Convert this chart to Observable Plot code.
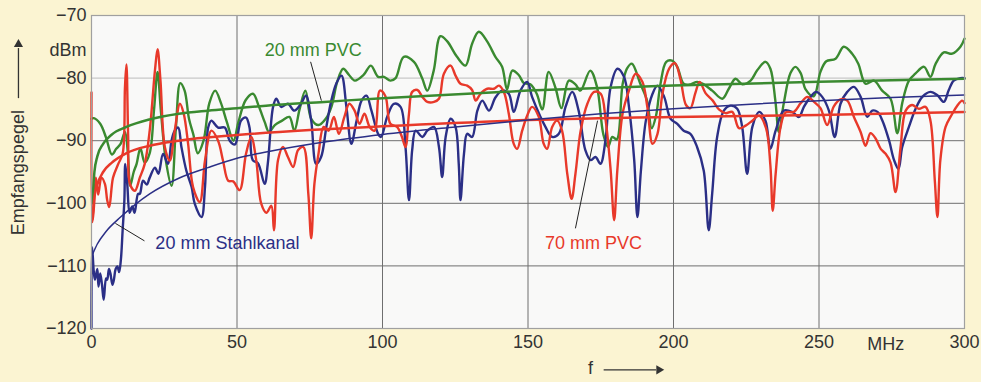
<!DOCTYPE html>
<html><head><meta charset="utf-8">
<script src="https://cdn.jsdelivr.net/npm/d3@7"></script>
<script src="https://cdn.jsdelivr.net/npm/@observablehq/plot@0.6"></script>
<style>html,body{margin:0;padding:0;background:#fbf4d2;}</style>
</head><body><div id="chart"></div>
<script>
const xTicks = [0, 50, 100, 150, 200, 250, 300];
const yTicks = [-70, -80, -90, -100, -110, -120];

const greenF = [0,0.8,3,5,7,8.5,10,11.5,12.5,13.3,14.5,15.5,16.8,18.3,20,21.5,22.7,23.8,25.5,27.5,29,30.5,32,33.5,35,36.5,38.5,40.5,42.5,44.5,46.5,48.8,50.5,53,55.5,57.5,59.5,61,63,65.5,68,69.7,71.5,73.5,75.5,78,80.5,82.5,84.5,86.5,88.5,90.5,93.5,96,98.5,100.5,102.7,104.5,107.3,110.8,113.6,115.4,117.6,119.9,122.2,125.6,128.5,130.8,133.1,135.9,138.8,141.1,142.8,144.6,146.8,148.6,150.8,153,154.9,157.1,159.4,161.5,164,166.3,168,171.4,173.7,175.9,177.5,179,180.5,182.5,184,185.7,188.6,190.9,192.5,194,195.5,197.5,199.5,201.3,203.5,205.8,208.1,210.4,213.3,216.8,219,221.3,223.6,226.5,228.7,231.6,233.3,235,236.2,237.9,240.2,241.9,243.7,245.4,248.2,250.5,252.5,255.7,258.5,261.4,263.5,266,268.9,271.7,274.6,276.9,278.6,280.9,283.1,286.1,288.3,290.1,292.9,295.8,298.6,300];
const greenV = [-86.5,-86.4,-87.3,-89.5,-92.2,-91.3,-90.5,-88.6,-92,-97.2,-95,-93.7,-91.2,-93.5,-92,-85,-79,-85,-93,-97.2,-88,-80.8,-82,-86.5,-89,-92,-90,-84,-82,-84,-87,-90,-87,-83.5,-82.5,-84.5,-87,-88.6,-87.5,-86.8,-86.2,-88.4,-85,-82,-86.5,-87.5,-86.5,-84.5,-80.5,-78.5,-79.5,-80.4,-79.5,-78,-79.8,-79.8,-80.4,-80,-76.6,-77.4,-80,-82,-78.8,-73.3,-74.1,-76.6,-78,-74.5,-72.6,-74.1,-76.6,-78.2,-81.8,-78.8,-79.5,-80.8,-81,-82.5,-85,-79,-81.5,-84.8,-80.4,-81,-82,-78.8,-81.4,-89,-91,-89.4,-89.8,-81,-78.5,-77.7,-80.9,-83.6,-88,-86,-81,-77.4,-77.2,-78.2,-80.9,-81,-80.6,-81,-82,-83.3,-81.7,-80.1,-81,-80.4,-78.8,-77.4,-78.5,-83.6,-88.6,-84,-79.2,-78.2,-79.2,-81.8,-82.9,-79,-77.3,-76.9,-75,-76.1,-77.7,-80.9,-80.4,-82,-83.3,-88.8,-84,-80.4,-79.3,-78.2,-79.8,-77.7,-75.9,-76.1,-75,-73.7];

const redF = [0,0.3,0.8,1.5,2.3,3.4,4.6,5.4,6.1,7.4,9.2,10.7,11.5,12,12.6,13.2,14.9,16.6,18.3,20,21.8,22.7,23.7,25.2,26.9,28.6,30.4,31.7,33.2,34.9,37.2,39,41.2,43.5,45.2,47,48.7,50.9,53.1,54.9,56.6,58.3,60.1,61.8,62.7,64.1,65.8,67.5,69.3,71,72.8,74.5,75.5,76.6,78,79.8,81.5,83.3,85,86.9,88.6,90.4,92.1,93.8,95.6,97.3,99.1,101,102.7,105,106.7,107.9,109.1,110.2,112,113.7,115.4,117.7,119.4,121.1,123.4,125.1,126.8,129.1,130.8,132,133.7,136,138.3,140,141.7,143.4,145.1,146.3,148,149.7,151.4,153.7,155.4,156.6,158.3,160,161.7,163.5,165,166.3,168.1,170.4,172.7,175,176.7,178.4,179.6,180.7,182.5,184.7,187,189.3,191,192.8,194.5,196.2,198.5,200.5,202.4,204.3,205.8,207.5,209,211,213.5,215.6,217.9,220.2,222.5,224.8,227.1,229.4,231.8,233.3,234.1,235.1,236.8,238.5,241.4,243.7,246,248.3,250.5,252.8,255.1,257.4,259.7,262,264.3,266,267.7,269.4,271.2,272.9,274.6,276.3,278,279.8,282,284.3,286.6,288.3,289.8,290.7,291.7,293.5,295.8,297.5,299.2,300];
const redV = [-82.3,-103,-100.8,-95.9,-98.6,-95.9,-96.9,-99.5,-100.6,-95.9,-93.7,-92.1,-81.5,-77.8,-89.4,-96.9,-98,-95.9,-93.7,-88.4,-78.8,-75.4,-80.4,-91,-93.2,-88.4,-84.1,-85.7,-90.5,-97.4,-99.8,-93.2,-88.4,-90,-93.2,-96.4,-96.5,-97.9,-92.1,-89.4,-93.1,-100,-101.5,-100.4,-104.3,-93.1,-91,-92.6,-94.2,-91.5,-91,-98.4,-105.6,-96.9,-92.1,-87.8,-88.4,-86.2,-88.9,-86.2,-84.1,-85.2,-87.3,-85.7,-87.8,-88.4,-82,-82.9,-87.3,-87.8,-89.4,-91,-85.7,-82.2,-81.9,-83,-83.8,-83.8,-83.3,-79.3,-78,-79.6,-80.9,-81.2,-81.9,-83.6,-82.5,-81.7,-81.7,-81.2,-82.2,-85.7,-90.5,-91.3,-88.4,-86,-84.6,-86.2,-90.5,-91.3,-87.8,-86.8,-88.4,-95.3,-99.3,-95.3,-88.4,-84.1,-82.2,-82.5,-86.8,-94.7,-102.7,-94.7,-85.7,-82,-79.3,-80.6,-84.6,-90.5,-88.9,-82.5,-78.5,-77.6,-80.2,-84.3,-84.8,-82.4,-80.6,-82.4,-83.6,-85,-85.6,-85.4,-88,-87.6,-86.8,-86,-88,-94,-101.2,-95.3,-87.8,-85.5,-85.4,-84,-83,-83.8,-84.8,-87.5,-84.5,-83.4,-83.6,-86.2,-88.6,-90.8,-88.8,-89.6,-91.3,-92.1,-93.5,-98.2,-91.2,-85.2,-84.3,-84.9,-84.6,-86.8,-96.4,-102.2,-93.1,-87.8,-85.7,-84.4,-83.6,-84];

const blueF = [0,0.2,0.8,1.2,2,2.4,3,3.6,4.2,5,5.4,6,6.5,7.2,7.7,8.3,8.9,9.5,10.1,10.7,11.3,11.6,12.3,13.1,14,14.8,16,16.6,17.7,19,20,21.8,23,24.6,26.3,27.5,28.6,29.8,30.9,32.6,34.4,35.5,37.8,39,40.1,41.2,43.5,45.8,47.5,49.3,51.4,53.1,54.3,55.4,57.2,59.5,60.6,62.4,63.5,65.2,67.5,69.7,72,73.7,75.5,77.2,78.9,80.7,82.4,84.1,85.9,87.6,89.3,91.1,92.8,94.5,96.2,98.5,99.5,101.6,103.9,106.2,107.9,109.1,110.2,111.4,113.7,115.4,117.7,119.4,120.5,121.7,123.4,125.1,126.2,126.8,128,129.1,130.8,132.6,134.3,136.6,138.8,141.1,143.4,145.1,147.4,149.7,151.4,154.3,156,158.3,160.6,162.9,165.2,167.4,169.7,171.5,173.2,174.9,176.6,178.4,180.7,183,184.7,186.5,187.6,188.8,190.5,192.8,194.5,196.8,199,201.3,203.5,205.8,208.1,210.4,212.1,213.3,215,217.3,219.6,221.9,223.6,225.3,227.1,229.4,231.6,233.3,235.1,237.9,240.8,243.1,244.8,247.1,249,251.1,253.4,255.4,257.4,259.7,262,264.3,266.6,268.3,270.1,271.8,274.1,275.8,277.3,278.6,280.9,283.2,285.5,288.3,290.6,292.9,294.6,296.3,298.6,300];
const blueV = [-120,-107,-111,-112.2,-110.5,-113.3,-111.2,-113,-115.4,-112,-112.2,-110.5,-111.2,-113,-112.2,-110.5,-110.1,-111,-109,-104.3,-99.5,-93.7,-97,-101.5,-100.5,-101.5,-98.5,-98.5,-96.4,-97,-95.9,-94.3,-95.3,-92.1,-93.7,-90,-88.4,-87.9,-91,-94.8,-97.4,-100.1,-102.2,-97.4,-87.9,-86.8,-87.9,-87.9,-90,-90.6,-86.8,-86.3,-87.9,-93.1,-93.6,-96.9,-93.6,-84.6,-83.3,-84.6,-84.1,-85.2,-84.1,-82.8,-86.8,-93.7,-92.6,-87.8,-83.6,-80.9,-79.6,-84.6,-90.5,-86.8,-83.6,-82.8,-85.2,-88.9,-89.4,-86.2,-84.1,-84.6,-91,-99.5,-91.5,-88.4,-89.4,-88.4,-87.8,-91,-95.8,-89.4,-86.5,-87.8,-93.7,-99.5,-92.1,-88.9,-89.4,-85.2,-83.6,-85.2,-83.1,-82,-82.5,-85.4,-82,-80.6,-83,-86.2,-87.8,-89.4,-88.9,-84.6,-82.2,-85.2,-91.5,-93.1,-92.6,-93.7,-90,-81.4,-78.5,-79.8,-84.6,-93.1,-102.2,-94.8,-86.8,-82.5,-81.2,-83,-86.5,-87.3,-88.4,-88.9,-91,-94.8,-104.3,-98.4,-89.4,-85.2,-84.4,-84.9,-87.8,-95.3,-87.8,-85.4,-86.8,-91.3,-88.4,-85.2,-85.4,-86.2,-84.6,-83,-82.2,-83,-85.2,-89.4,-84.1,-82.2,-81.4,-83,-86.2,-85.2,-85.4,-86.8,-90,-93.1,-94.5,-91,-87.8,-84.9,-83,-82.2,-82.7,-83.8,-81.9,-80.4,-80,-80];

const greenTrendF = [0.3,1,2,4,7,12,20,30,40,50,60,80,100,150,200,250,300];
const greenTrendV = [-100,-95,-92.5,-90.5,-89,-87.8,-86.6,-85.7,-85.2,-84.8,-84.4,-83.8,-83.2,-82,-81.2,-80.6,-80.1];
const redTrendF = [0.3,1,2,4,7,12,20,30,50,75,100,150,200,250,300];
const redTrendV = [-102.5,-99,-97,-95,-93.5,-92,-90.8,-90,-89.1,-88.3,-87.7,-86.7,-86.2,-85.9,-85.4];
const blueTrendF = [0.5,2,5,10,15,20,30,40,50,60,80,100,125,150,175,200,225,250,275,300];
const blueTrendV = [-108,-106.5,-104.5,-102.2,-100.2,-98.5,-96,-94.3,-92.8,-91.8,-90.2,-89,-87.8,-86.7,-85.7,-84.9,-84.2,-83.6,-83.1,-82.7];

// annotation labels and pointer lines
const labelText = ["20 mm PVC", "20 mm Stahlkanal", "70 mm PVC"];
const labelF = [76.2, 46.7, 172.5];
const labelV = [-75.6, -106.4, -106.4];
const labelColor = ["#3a8a30", "#2b2f86", "#e8392a"];
const pointerF1 = [75.3, 18.2, 166.3];
const pointerV1 = [-77.4, -106.0, -104.0];
const pointerF2 = [79, 8.2, 173.9];
const pointerV2 = [-83.6, -103.2, -86.8];

const GREEN = "#3a8a30", RED = "#e8392a", BLUE = "#2b2f86";
const rows = (F, V) => F.map((f, i) => ({f, v: V[i]}));
const FS = 18;

const chart = Plot.plot({
  width: 981, height: 382,
  marginLeft: 91, marginRight: 17, marginTop: 15, marginBottom: 54,
  style: {background: "#fbf4d2", fontFamily: "'Liberation Sans', Arial, sans-serif", fontSize: FS + "px", color: "#333", overflow: "visible"},
  x: {domain: [0, 300], ticks: xTicks, tickSize: 0, tickPadding: 7, label: null},
  y: {domain: [-120, -70], ticks: yTicks, tickSize: 0, tickPadding: 5, label: null},
  marks: [
    Plot.frame({fill: "#f9f9f8"}),
    Plot.ruleX(xTicks.slice(1, -1), {stroke: "#6f6f6f", strokeWidth: 1}),
    Plot.ruleY(yTicks.slice(1, -1), {stroke: d => d === -80 ? "#bdbdbd" : "#6f6f6f", strokeWidth: 1}),
    Plot.line(rows(greenF, greenV), {x: "f", y: "v", stroke: GREEN, strokeWidth: 2.4, curve: "catmull-rom"}),
    Plot.line(rows(blueF, blueV), {x: "f", y: "v", stroke: BLUE, strokeWidth: 2.4, curve: "catmull-rom"}),
    Plot.line(rows(redF, redV), {x: "f", y: "v", stroke: RED, strokeWidth: 2.4, curve: "catmull-rom"}),
    Plot.line(rows(greenTrendF, greenTrendV), {x: "f", y: "v", stroke: GREEN, strokeWidth: 2.5, curve: "monotone-x"}),
    Plot.line(rows(redTrendF, redTrendV), {x: "f", y: "v", stroke: RED, strokeWidth: 2.5, curve: "monotone-x"}),
    Plot.line(rows(blueTrendF, blueTrendV), {x: "f", y: "v", stroke: BLUE, strokeWidth: 1.5, curve: "monotone-x"}),
    Plot.link(labelText, {x1: (d, i) => pointerF1[i], y1: (d, i) => pointerV1[i], x2: (d, i) => pointerF2[i], y2: (d, i) => pointerV2[i], stroke: "#222", strokeWidth: 1}),
    Plot.text(labelText, {x: (d, i) => labelF[i], y: (d, i) => labelV[i], text: d => d, fill: (d, i) => labelColor[i], fontSize: FS}),
    Plot.frame({stroke: "#a0a0a0", strokeWidth: 1.2}),
    Plot.text(["dBm"], {x: 0, y: -75.6, text: d => d, dx: -5, textAnchor: "end", fontSize: FS, fill: "#333"}),
    Plot.text(["MHz"], {x: 272.9, y: -120, text: d => d, dy: 16, fontSize: FS, fill: "#333"}),
    Plot.text(["f"], {x: 171.5, y: -126.4, text: d => d, fontSize: FS, fill: "#333"}),
    Plot.link([0], {x1: 176, x2: 194, y1: -126.6, y2: -126.6, stroke: "#333", strokeWidth: 1.3}),
    Plot.dot([0], {x: 195, y: -126.6, symbol: "triangle", r: 3.4, fill: "#333", stroke: null, rotate: 90}),
    Plot.text(["Empfangspegel"], {x: -25.1, y: -95.1, text: d => d, rotate: -90, fontSize: FS, fill: "#333"}),
    Plot.link([0], {x1: -25.1, x2: -25.1, y1: -83.2, y2: -75.2, stroke: "#333", strokeWidth: 1.3}),
    Plot.dot([0], {x: -25.1, y: -74.6, symbol: "triangle", r: 3.4, fill: "#333", stroke: null})
  ]
});
document.getElementById("chart").appendChild(chart);
</script>
</body></html>
